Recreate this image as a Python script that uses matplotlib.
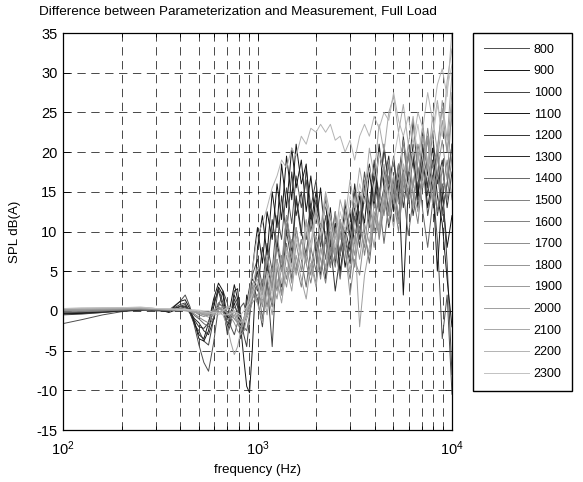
import matplotlib
matplotlib.use("Agg")
import matplotlib.pyplot as plt
from matplotlib.ticker import LogLocator, MultipleLocator, NullFormatter

plt.rcParams['font.family'] = ['Liberation Sans', 'DejaVu Sans']
plt.rcParams['mathtext.fontset'] = 'custom'
plt.rcParams['mathtext.rm'] = 'Liberation Sans'
plt.rcParams['axes.unicode_minus'] = False
plt.rcParams['lines.scale_dashes'] = False

# frequency axis (Hz)
freq = [100, 125, 160, 200, 250, 300, 350,
        400, 425, 450, 475, 500, 530, 560, 595, 630, 665, 700, 730, 760, 790, 820, 850, 880, 910, 940, 970, 1000,
        1060, 1120, 1190, 1260, 1330, 1410, 1500, 1580, 1680, 1780, 1880, 2000, 2110, 2240, 2370, 2510,
        2660, 2820, 2990, 3160, 3350, 3550, 3760, 3980, 4220, 4470, 4730, 5010, 5310, 5620, 5960, 6310,
        6680, 7080, 7500, 7940, 8410, 8910, 9440, 10000]

labels = ['800', '900', '1000', '1100', '1200', '1300', '1400', '1500',
          '1600', '1700', '1800', '1900', '2000', '2100', '2200', '2300']

grays = [0.30, 0.08, 0.25, 0.08, 0.20, 0.15, 0.40, 0.50,
         0.50, 0.55, 0.58, 0.60, 0.62, 0.66, 0.70, 0.76]

s800 = [-1.6, -1.1, -0.5, -0.1, 0.1, 0.2, 0.1,
        1.2, 2.0, 0.5, -2.0, -4.3, -6.5, -7.6, -4.0, 0.5, 2.5, 1.0, -2.0, -3.0, -1.5, 0.5, 1.0, -0.5, 1.5, 4.5, 5.5, 6.5,
        3.0, 8.5, 5.0, 12.0, 9.0, 15.5, 11.0, 17.0, 13.0, 16.5, 10.0, 14.0, 8.0, 12.0, 6.5, 10.5,
        7.0, 12.5, 9.0, 15.0, 11.5, 17.5, 13.0, 19.0, 14.5, 18.0, 12.0, 16.5, 11.0, 17.0, 13.5, 20.0,
        15.0, 18.5, 12.0, 16.0, 9.0, -3.5, 2.0, -10.5]
s900 = [-0.4, -0.3, -0.2, 0.0, 0.2, 0.3, -0.2,
        0.3, 0.5, -0.3, -1.5, -3.0, -3.5, -1.5, 1.5, 3.5, 2.5, -1.0, 1.0, 3.3, 1.5, -2.0, -6.0, -9.5, -10.3, -5.0, 2.0, 8.0,
        12.0, 7.0, 15.0, 10.5, 18.5, 13.0, 20.5, 15.5, 19.0, 12.5, 17.0, 11.0, 15.5, 8.5, 13.0, 6.0,
        11.5, 5.5, 9.0, 13.5, 10.0, 16.0, 12.0, 18.5, 14.0, 20.5, 16.0, 19.0, 13.5, 18.0, 15.0, 21.0,
        14.5, 19.5, 13.0, 17.0, 5.0, 15.0, 8.0, 12.0]
s1000 = [-0.5, -0.4, -0.2, 0.0, 0.1, 0.2, 0.0,
         0.8, 1.0, -0.3, -1.8, -2.5, -3.8, -4.3, -1.0, 2.8, 1.0, -3.0, -1.5, 1.5, 0.5, -0.5, -3.0, -4.5, -1.0, 3.0, 2.5, 1.5,
         -2.0, 4.0, -4.5, 6.5, 3.0, 10.0, 6.0, 14.0, 9.5, 18.0, 13.0, 16.5, 10.0, 14.0, 8.5, 12.5,
         4.5, 9.0, 6.0, 12.0, 8.0, 15.5, 10.5, 18.0, 13.0, 21.0, 15.0, 19.5, 14.0, 22.0, 16.5, 24.0,
         17.0, 21.0, 14.5, 19.0, 12.0, 16.0, 6.0, -8.0]
s1100 = [-0.3, -0.3, -0.1, 0.1, 0.3, 0.1, -0.1,
         1.2, 1.4, 0.2, -1.5, -3.5, -3.8, -2.5, 0.5, 3.0, 2.0, -2.0, -0.5, 2.5, 2.8, -1.0, -2.5, 2.0, 0.5, 5.0, 8.0, 10.5,
         6.0, 12.5, 9.0, 16.0, 11.5, 19.5, 14.0, 21.0, 16.0, 18.5, 11.0, 15.0, 9.5, 13.5, 7.5, 11.0,
         5.0, 9.5, 12.5, 8.5, 14.5, 11.0, 17.5, 13.0, 20.5, 15.5, 18.5, 12.5, 16.5, 2.0, 15.5, 19.5,
         14.0, 23.0, 17.0, 20.5, 14.5, 11.0, 4.0, -2.0]
s1200 = [-0.2, -0.2, 0.0, 0.1, 0.2, 0.0, 0.0,
         0.6, 0.8, 0.0, -1.2, -2.0, -2.2, -1.5, 1.0, 2.5, 0.5, -2.5, -1.0, 2.0, 1.0, -3.5, -2.0, 1.0, 3.0, 4.0, 3.5, 2.5,
         8.0, 4.5, 11.5, 7.5, 14.5, 9.5, 17.5, 12.0, 15.0, 9.0, 13.5, 7.0, 11.0, 4.0, 8.5, 2.5,
         7.0, 10.5, 7.5, 13.0, 9.0, 15.0, 11.5, 17.0, 12.5, 15.5, 10.5, 14.0, 18.5, 13.0, 17.5, 12.0,
         16.0, 20.5, 15.5, 22.5, 16.0, 19.0, 13.0, 17.5]
s1300 = [-0.3, -0.2, -0.1, 0.0, 0.1, 0.2, 0.1,
         0.5, 0.6, -0.2, -1.0, -1.5, -2.5, -3.0, -1.0, 1.0, 0.5, -1.0, -0.5, 1.0, -0.5, -2.0, -1.5, -0.5, 0.5, 2.0, 3.5, 5.0,
         1.0, 6.0, 2.5, 9.0, 5.0, 12.0, 7.5, 14.5, 10.0, 7.0, 12.5, 8.0, 4.5, 9.5, 5.5, 11.0,
         7.0, 13.5, 9.5, 16.0, 11.0, 14.5, 18.5, 14.0, 21.0, 16.0, 19.5, 13.5, 17.0, 21.5, 15.5, 19.0,
         13.0, 17.5, 22.0, 16.5, 20.0, 12.5, 16.0, 21.0]
s1400 = [-0.2, -0.1, 0.0, 0.1, 0.2, 0.1, 0.0,
         0.3, 0.4, 0.0, -0.6, -1.0, -1.6, -2.0, -0.8, 0.5, 0.0, -1.5, -0.5, 0.5, 0.0, -1.0, -2.0, -2.5, -0.5, 1.5, 2.5, 3.5,
         -1.0, 3.5, 0.5, 6.0, 2.0, 8.5, 4.0, 10.5, 6.5, 3.0, 8.0, 5.0, 10.5, 6.5, 12.0, 8.0,
         4.0, 9.5, 6.5, 12.5, 15.0, 10.0, 6.0, 11.5, 14.0, 8.5, 13.5, 17.0, 11.0, 15.0, 9.5, 14.0,
         18.0, 12.5, 8.0, 13.5, 17.5, 12.0, 16.0, 21.0]
s1500 = [-0.1, -0.1, 0.0, 0.1, 0.2, 0.2, 0.1,
         0.3, 0.2, 0.0, -0.4, -0.8, -1.2, -1.5, -0.3, 1.0, 0.5, -0.5, -0.5, 0.0, -1.0, -1.5, -1.0, 0.0, 1.0, 2.5, 3.5, 4.5,
         2.5, 6.5, 3.0, 8.0, 5.0, 11.0, 7.0, 5.0, 9.0, 6.0, 3.5, 7.5, 4.0, 9.0, 5.5, 10.5,
         7.0, 12.0, 9.0, 5.5, 10.5, 8.0, 13.5, 10.0, 15.5, 12.0, 17.0, 13.5, 18.5, 14.5, 19.5, 15.5,
         21.0, 17.5, 23.0, 18.0, 20.5, 15.0, 19.0, 14.0]
s1600 = [0.0, 0.0, 0.1, 0.2, 0.3, 0.2, 0.1,
         0.2, 0.2, 0.2, -0.1, -0.5, -0.7, -0.5, 0.0, 0.5, -0.2, -1.0, -1.0, -0.5, -1.5, -2.5, -1.0, 0.5, 2.0, 3.5, 2.0, 1.0,
         4.0, 0.5, 5.5, 2.5, 7.0, 4.0, 9.0, 6.0, 3.0, 7.5, 4.5, 9.5, 6.5, 3.5, 8.0, 5.5,
         10.0, 7.5, 4.0, 9.0, 12.5, 7.0, 11.0, 15.5, 9.0, 13.0, 18.5, 14.0, 10.0, 15.5, 20.0, 14.5,
         11.0, 17.5, 21.5, 16.0, 12.5, 18.0, 14.0, 19.5]
s1700 = [0.1, 0.1, 0.1, 0.2, 0.3, 0.2, 0.1,
         0.1, 0.1, 0.1, -0.1, -0.3, -0.5, -0.5, -0.1, 0.2, 0.5, 0.5, -0.3, -1.0, -1.5, -1.5, -1.0, -0.5, 0.5, 1.5, 2.5, 3.0,
         0.5, 4.5, 1.0, 5.5, 2.0, 7.0, 3.5, 8.5, 5.0, 10.0, 6.5, 3.5, 8.0, 5.0, 9.5, 6.5,
         11.0, 8.0, 2.0, 6.5, 4.5, 9.5, 7.0, 12.0, 9.5, 14.0, 11.0, 16.0, 12.0, 17.5, 13.5, 16.0,
         20.0, 15.5, 19.0, 13.5, 17.5, 21.5, 16.5, 26.0]
s1800 = [0.1, 0.1, 0.2, 0.2, 0.3, 0.2, 0.2,
         0.1, 0.1, 0.0, -0.1, -0.2, -0.3, -0.3, 0.1, 0.5, 0.2, -0.3, -0.8, -1.5, -2.5, -3.0, -2.5, -1.0, 0.0, 1.0, 1.5, 2.0,
         3.0, -0.5, 4.0, 1.5, 5.5, 3.0, 7.5, 4.5, 9.0, 6.0, 11.5, 8.5, 5.0, 10.0, 7.0, 12.5,
         9.0, 14.0, 10.5, 7.0, 12.0, 16.5, 11.5, 8.0, 13.5, 18.5, 14.5, 10.5, 16.0, 21.5, 17.0, 13.0,
         19.0, 23.5, 18.5, 14.0, 20.5, 25.5, 20.0, 24.5]
s1900 = [0.2, 0.2, 0.2, 0.3, 0.3, 0.3, 0.2,
         0.1, 0.0, -0.1, -0.2, -0.3, -0.5, -0.8, -0.4, 0.2, 0.1, -0.2, -0.5, -1.0, -1.5, -2.0, -1.0, 0.5, 1.5, 3.0, 4.5, 5.5,
         2.0, 7.0, 4.0, 9.5, 6.0, 12.0, 8.0, 10.5, 6.5, 11.5, 7.5, 12.5, 9.0, 14.5, 10.5, 7.0,
         11.5, 8.5, 13.0, 10.0, 6.5, 11.0, 8.5, 13.5, 10.5, 15.5, 19.0, 14.0, 11.0, 16.5, 21.0, 15.0,
         12.5, 17.5, 22.0, 16.0, 19.0, 24.0, 20.0, 27.5]
s2000 = [0.2, 0.2, 0.3, 0.3, 0.4, 0.3, 0.2,
         0.1, 0.1, 0.0, -0.1, -0.2, -0.4, -0.5, -0.2, 0.0, -0.5, -2.0, -4.0, -5.5, -4.5, -2.5, -1.5, -0.5, 0.5, 2.0, 1.5, 1.0,
         -1.5, 2.5, -0.5, 4.0, 1.0, 5.5, 2.5, 7.0, 4.0, 1.5, 6.0, 3.0, 8.0, 5.5, 10.0, 7.0,
         11.5, 8.5, 5.0, 9.5, -2.0, 4.5, 8.0, 12.5, 10.0, 15.0, 12.0, 17.0, 13.5, 18.5, 15.0, 20.0,
         16.5, 22.0, 18.0, 24.5, 20.0, 26.5, 21.5, 30.0]
s2100 = [0.3, 0.3, 0.3, 0.4, 0.4, 0.3, 0.2,
         0.1, 0.1, 0.0, 0.0, -0.1, -0.2, -0.3, -0.3, -0.2, 0.1, 0.3, 0.0, -0.5, -1.0, -1.5, -1.0, 0.0, 1.0, 2.5, 3.5, 4.0,
         1.0, 5.0, 2.5, 6.5, 3.5, 8.0, 5.5, 9.5, 7.0, 11.0, 8.5, 13.0, 10.5, 15.0, 12.0, 9.0,
         14.0, 11.5, 16.5, 13.0, 18.0, 14.5, 20.5, 17.0, 23.5, 20.0, 25.0, 27.0, 22.5, 26.0, 21.0, 24.5,
         19.0, 23.0, 18.5, 22.5, 26.5, 22.0, 29.0, 33.0]
s2200 = [0.3, 0.3, 0.4, 0.4, 0.4, 0.3, 0.2,
         0.2, 0.2, 0.1, 0.1, 0.0, -0.1, -0.2, -0.4, -0.5, 0.0, 0.5, 0.4, 0.0, -0.5, -1.0, -1.5, 0.0, 2.5, 5.0, 7.5, 9.5,
         11.0, 13.0, 15.5, 17.0, 19.0, 18.0, 20.5, 19.5, 22.0, 21.0, 23.0, 22.5, 23.5, 22.5, 23.5, 21.5,
         22.0, 20.0, 21.5, 19.0, 22.0, 23.5, 22.0, 24.5, 23.0, 25.0, 24.0, 27.5, 24.0, 22.0, 24.5, 21.0,
         25.0, 23.0, 27.5, 24.0, 28.5, 30.5, 27.0, 35.5]
s2300 = [0.3, 0.4, 0.4, 0.4, 0.5, 0.3, 0.3,
         0.2, 0.2, 0.1, 0.1, 0.1, 0.0, 0.0, -0.2, -0.3, -0.5, -0.5, -0.3, 0.0, -0.3, -0.5, 0.0, 0.5, 1.0, 2.0, 3.0, 3.5,
         1.5, 4.5, 2.0, 6.0, 3.5, 7.5, 5.0, 9.0, 6.5, 10.5, 8.0, 12.0, 9.5, 13.5, 11.0, 8.0,
         12.5, 10.0, 14.5, 12.0, 16.0, 13.5, 18.0, 15.0, 20.0, 17.0, 14.0, 19.0, 22.5, 18.0, 15.5, 20.0,
         23.5, 19.0, 16.5, 21.5, 26.0, 22.0, 28.0, 31.0]

series = [s800, s900, s1000, s1100, s1200, s1300, s1400, s1500,
          s1600, s1700, s1800, s1900, s2000, s2100, s2200, s2300]

fig = plt.figure(figsize=(5.83, 4.82), dpi=100)
ax = fig.add_axes([63 / 583, 1 - 430 / 482, (452 - 63) / 583, (430 - 33) / 482])

for vals, g, lab in zip(series, grays, labels):
    ax.plot(freq, vals, color=str(g), lw=0.7, label=lab)

ax.set_xscale('log')
ax.set_xlim(100, 10000)
ax.set_ylim(-15, 35)
ax.yaxis.set_major_locator(MultipleLocator(5))
ax.xaxis.set_minor_locator(LogLocator(base=10, subs=range(2, 10)))
ax.xaxis.set_minor_formatter(NullFormatter())

ax.grid(True, which='major', axis='both', color='k', lw=0.5, linestyle=(0, (6, 4)))
ax.grid(True, which='minor', axis='x', color='k', lw=0.5, linestyle=(0, (6, 4)))
ax.set_axisbelow(True)

ax.tick_params(which='both', direction='in', top=True, right=True, labelsize=10.5, width=0.6)
ax.tick_params(which='major', length=5)
ax.tick_params(which='minor', length=3)
ax.tick_params(axis='y', pad=4)
ax.tick_params(axis='x', pad=7)
for sp in ax.spines.values():
    sp.set_linewidth(0.9)

ax.set_xlabel('frequency (Hz)', fontsize=9.5, labelpad=4)
ax.set_ylabel('SPL dB(A)', fontsize=9.5, labelpad=11)
# title sits a little left of the axes centre, as in the original
fig.text(238 / 583, 1 - 12 / 482, 'Difference between Parameterization and Measurement, Full Load',
         fontsize=9.7, ha='center', va='center')

fig.legend(loc='upper left', bbox_to_anchor=(473 / 583, 1 - 33 / 482), fontsize=9,
           frameon=True, fancybox=False, edgecolor='k', framealpha=1,
           handlelength=3.6, handletextpad=0.4, borderpad=0.85, labelspacing=0.77,
           borderaxespad=0)

fig.savefig('out.png', dpi=100)
